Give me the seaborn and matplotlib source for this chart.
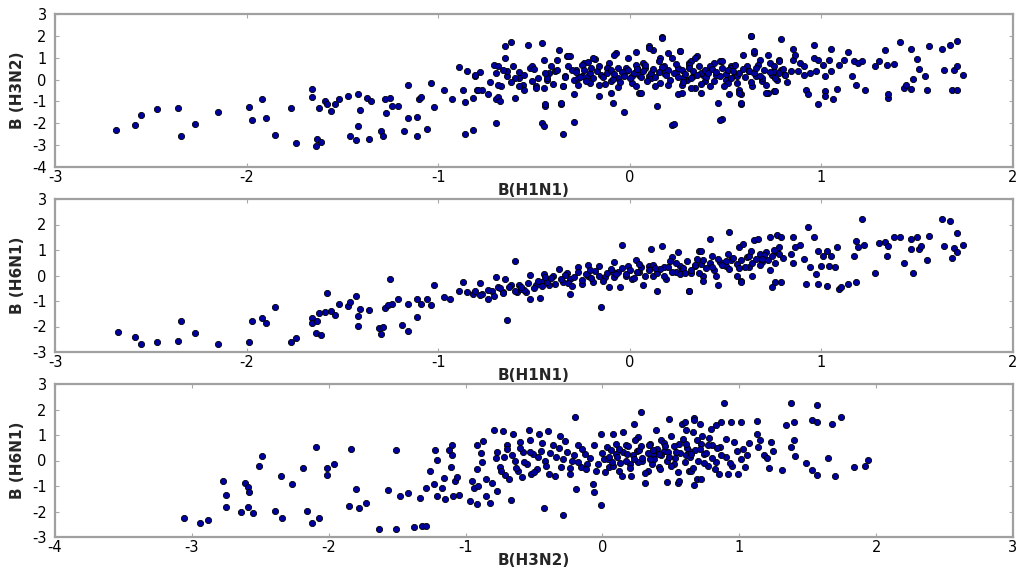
import matplotlib
matplotlib.use("Agg")
import matplotlib.pyplot as plt
import seaborn as sns
import pandas as pd

# ---------------- data ----------------
# Panel 1: B(H1N1) vs B(H3N2)
h1n1_h3n2 = [
(-2.68,-2.31),(-2.58,-2.09),(-2.55,-1.60),(-2.47,-1.36),(-2.36,-1.28),(-2.34,-2.56),(-2.27,-2.04),(-2.15,-1.48),
(-1.99,-1.26),(-1.97,-1.83),(-1.92,-0.90),(-1.90,-1.75),(-1.85,-2.54),(-1.77,-1.31),(-1.74,-2.91),(-1.66,-0.41),
(-1.66,-0.81),(-1.64,-3.05),(-1.63,-2.71),(-1.62,-1.31),(-1.61,-2.86),(-1.59,-0.96),(-1.58,-1.14),(-1.56,-1.46),
(-1.54,-1.14),(-1.52,-0.88),(-1.47,-0.74),(-1.46,-2.56),(-1.43,-2.77),(-1.42,-0.65),(-1.42,-2.13),(-1.41,-1.40),
(-1.37,-0.84),(-1.35,-1.00),(-1.36,-2.74),(-1.30,-2.36),(-1.29,-2.59),(-1.28,-0.91),(-1.27,-1.55),(-1.25,-0.85),
(-1.24,-1.19),(-1.21,-1.22),(-1.18,-2.36),(-1.16,-0.27),(-1.16,-1.75),(-1.11,-1.70),(-1.11,-2.59),(-1.10,-0.88),
(-1.09,-0.79),(-1.06,-2.25),(-1.04,-0.15),(-1.02,-1.25),(-0.97,-0.46),(-0.93,-0.88),(-0.89,0.58),(-0.87,-0.49),
(-0.86,-2.50),(-0.86,-1.04),(-0.85,0.38),(-0.82,-2.33),(-0.82,-0.84),(-0.81,0.18),(-0.80,-0.49),(-0.78,0.33),
(-0.77,-0.46),(-0.74,-0.68),(-0.73,-0.12),(-0.71,0.68),(-0.70,-1.98),(-0.70,-0.91),(-0.69,-0.79),(-0.68,-0.99),
(-0.67,-0.30),(-0.65,0.99),(-0.65,1.55),(-0.64,0.15),(-0.62,1.70),(-0.61,0.61),(-0.60,-0.84),(-0.58,0.08),
(-0.56,-0.23),(-0.55,-0.46),(-0.53,1.60),(-0.52,0.53),(-0.51,-0.08),(-0.49,-0.30),(-0.46,-1.98),(-0.46,1.67),
(-0.45,-2.13),(-0.45,-0.38),(-0.45,0.91),(-0.44,-1.19),(-0.43,0.00),(-0.42,0.31),(-0.41,0.61),(-0.38,0.91),
(-0.37,1.34),(-0.36,-1.10),(-0.35,-0.30),(-0.35,-2.47),(-0.34,0.18),(-0.33,1.06),(-0.31,1.06),(-0.29,0.00),
(-0.29,-1.92),(-0.28,0.46),(-0.27,-0.23),(-0.25,0.15),(-0.24,0.76),(-0.22,0.79),(-0.21,-0.15),(-0.18,0.94),
(-0.16,-0.76),(-0.15,0.23),(-0.11,0.76),(-0.10,-0.08),(-0.09,-1.07),(-0.07,1.22),(-0.06,-0.34),(-0.03,-1.49),
(-0.02,0.53),(-0.01,0.99),(0.01,0.15),(0.03,1.25),(0.04,0.53),(0.05,-0.61),(0.07,0.76),(0.10,0.15),(0.10,1.52),
(0.12,1.37),(0.13,-0.30),(0.14,-1.19),(0.16,0.99),(0.17,1.95),(0.18,0.61),(0.20,1.22),(0.22,-2.09),(0.24,0.31),
(0.25,-0.68),(0.26,1.29),(0.27,-0.23),(0.31,0.76),(0.33,0.15),(0.34,-0.38),
(0.27,-0.61),(0.30,0.00),(0.32,0.84),(0.35,1.06),(0.37,-0.61),(0.38,0.23),(0.42,-0.30),(0.44,0.76),(0.46,-1.07),
(0.47,0.84),(0.48,-1.80),(0.50,0.00),(0.52,-0.68),(0.53,0.61),(0.55,0.23),(0.57,-0.46),(0.58,-0.68),(0.58,-1.10),
(0.59,1.14),(0.61,0.61),(0.63,1.98),(0.64,-0.30),(0.65,1.22),(0.66,0.15),(0.68,0.91),(0.69,-0.08),(0.72,-0.61),
(0.72,1.14),(0.73,0.76),(0.74,0.23),(0.75,-0.53),(0.77,0.00),(0.78,0.91),(0.79,1.86),(0.79,0.46),(0.81,0.23),
(0.84,0.38),(0.85,1.40),(0.85,0.91),(0.86,1.14),(0.88,0.38),(0.89,0.76),(0.91,0.61),(0.91,0.23),(0.92,-0.46),
(0.93,-0.68),(0.94,0.31),(0.96,1.60),(0.96,0.99),(0.97,0.38),(0.98,-1.10),(0.98,0.91),(1.01,0.68),(1.02,0.15),
(1.02,-0.53),(1.02,-0.73),(1.04,0.91),(1.05,0.38),(1.05,1.40),(1.06,-0.88),(1.08,-0.42),(1.09,0.68),(1.12,0.91),
(1.14,1.25),(1.16,0.15),(1.17,0.84),(1.18,-0.27),(1.19,0.76),(1.21,0.84),(1.23,-0.50),(1.28,0.61),(1.30,0.84),
(1.33,1.37),(1.34,0.68),(1.35,-0.84),(1.35,-0.68),(1.38,0.73),(1.41,1.70),(1.43,-0.38),(1.44,-0.23),(1.47,1.40),
(1.47,-0.42),(1.48,0.03),(1.50,0.94),(1.51,0.49),(1.54,0.18),(1.55,-0.50),(1.56,1.55),(1.63,1.40),(1.64,0.43),
(1.67,1.60),(1.68,-0.49),(1.69,0.43),(1.71,1.75),(1.71,-0.49),(1.71,0.64),(1.74,0.23),
(-0.81,0.23),(-0.79,-0.46),(-0.69,0.61),(-0.69,-0.23),(-0.64,0.38),(-0.60,0.08),(-0.58,-0.30),(-0.51,0.61),
(-0.49,-0.38),(-0.44,-1.14),(-0.43,0.08),(-0.39,0.38),(-0.36,-1.07),(-0.35,-0.30),(-0.32,1.06),(-0.30,0.46),
(-0.29,-0.68),(-0.27,0.08),(-0.25,0.68),(-0.22,0.15),(-0.19,0.99),(-0.16,-0.23),(-0.12,0.53),(-0.10,-0.61),
(-0.08,1.14),(-0.06,0.08),(-0.02,0.38),(0.01,-0.15),(0.03,0.68),(0.05,0.23),(0.06,-0.61),(0.08,0.53),(0.10,1.45),
(0.11,0.08),(0.15,0.84),(0.17,1.90),(0.18,0.31),(0.20,-0.23),(0.22,0.99),(0.23,-2.05),(0.25,0.53),(0.26,1.29),
(0.28,0.08),(0.31,0.68),(0.32,-0.38),(0.34,0.99),(0.37,0.31),(0.39,-0.08),(0.42,0.61),(0.45,0.23),(0.47,-1.83),
(0.48,0.84),(0.51,-0.15),(0.53,0.53),(0.56,0.15),(0.57,-0.61),(0.58,-1.07),(0.62,0.38),(0.63,1.98),(0.65,1.29),
(0.67,0.68),(0.69,0.08),(0.71,-0.61),(0.75,0.38),(0.76,-0.53),(0.78,0.84),(0.81,0.23),
(-0.28,0.35),(-0.26,0.10),(-0.24,0.42),(-0.23,-0.05),(-0.21,0.28),(-0.20,0.55),(-0.19,0.05),(-0.17,0.38),
(-0.16,0.62),(-0.14,0.12),(-0.13,-0.20),(-0.12,0.30),(-0.10,0.45),(-0.09,0.02),(-0.08,0.25),(-0.06,0.55),
(-0.05,-0.10),(-0.04,0.35),(-0.03,0.18),(-0.01,0.45),(0.00,0.05),(0.02,0.30),(0.03,-0.30),(0.04,0.50),(0.06,0.12),
(0.07,0.38),(0.08,0.65),(0.09,-0.05),(0.11,0.28),(0.12,0.48),(0.13,0.10),(0.15,0.35),(0.16,-0.15),(0.17,0.58),
(0.19,0.20),(0.20,0.42),(0.21,0.00),(0.23,0.30),(0.24,0.70),(0.25,0.12),(0.27,0.45),(0.28,-0.10),(0.29,0.25),
(0.31,0.55),(0.32,0.08),(0.33,0.38),(0.35,0.20),(0.36,0.62),(0.37,-0.20),(0.39,0.42),(0.40,0.10),(0.41,0.30),
(0.43,0.50),(0.44,-0.05),(0.45,0.35),(0.47,0.18),(0.48,0.55),(0.49,-0.30),(0.50,0.25),(0.51,0.45),(0.53,0.05),
(0.54,0.38),(0.55,0.65),(0.56,-0.15),(0.57,0.30),(0.59,0.50),(0.60,0.10),(0.62,0.40),(0.63,-0.10),(0.65,0.28),
(0.66,0.55),(0.68,0.15),(0.70,0.45),(0.71,-0.25),(0.73,0.35),(0.75,0.60),(0.76,0.05),(0.78,0.30),(0.80,0.50),
(0.82,-0.10),(-0.70,0.30),(-0.66,0.45),(-0.62,-0.10),(-0.58,0.35),(-0.55,0.20),(-0.50,0.50),(-0.48,0.05),
(-0.44,0.30),(-0.40,-0.20),(-0.38,0.45),(-0.34,0.10),(-0.32,0.60),
]

# Panel 2: B(H1N1) vs B(H6N1)
h1n1_h6n1 = [
(-2.67,-2.22),(-2.58,-2.43),(-2.55,-2.69),(-2.47,-2.59),(-2.36,-2.56),(-2.34,-1.80),(-2.27,-2.26),(-2.15,-2.69),
(-1.99,-2.59),(-1.97,-1.80),(-1.92,-1.67),(-1.90,-1.88),(-1.85,-1.25),(-1.77,-2.61),(-1.74,-2.46),(-1.66,-1.67),
(-1.66,-1.88),(-1.64,-2.27),(-1.63,-1.80),(-1.62,-1.48),(-1.61,-2.33),(-1.59,-1.44),(-1.58,-0.69),(-1.56,-1.41),
(-1.54,-1.54),(-1.52,-1.11),(-1.47,-1.18),(-1.46,-1.05),(-1.43,-0.81),(-1.42,-1.57),(-1.42,-1.99),(-1.41,-1.31),
(-1.36,-1.37),(-1.31,-2.07),(-1.30,-2.29),(-1.29,-2.03),(-1.28,-1.28),(-1.26,-1.15),(-1.24,-1.11),(-1.25,-0.13),
(-1.21,-0.92),(-1.19,-1.93),(-1.16,-2.16),(-1.16,-1.11),(-1.11,-1.63),(-1.11,-0.92),(-1.09,-1.11),(-1.06,-0.92),
(-1.04,-1.15),(-1.02,-0.39),(-0.97,-0.85),(-0.94,-0.94),(-0.89,-0.59),(-0.87,-0.26),(-0.85,-0.65),(-0.82,-0.72),
(-0.81,-0.59),(-0.78,-0.29),(-0.77,-0.72),(-0.74,-0.92),(-0.72,-0.59),(-0.70,-0.07),(-0.69,-0.46),(-0.66,-0.65),
(-0.65,-0.13),(-0.64,-1.76),(-0.62,-0.39),(-0.60,0.55),(-0.59,-0.65),(-0.57,-0.52),(-0.54,-0.63),(-0.52,0.03),
(-0.52,-0.92),(-0.49,-0.39),(-0.47,-0.89),(-0.46,-0.26),(-0.45,0.07),(-0.42,-0.39),(-0.40,-0.03),(-0.37,0.26),
(-0.35,-0.26),(-0.33,0.11),(-0.31,-0.72),(-0.31,-0.13),(-0.27,0.33),(-0.25,-0.33),(-0.22,0.00),(-0.22,0.42),
(-0.19,-0.26),(-0.16,0.39),(-0.15,-1.24),(-0.13,-0.07),(-0.11,-0.46),(-0.09,0.13),(-0.08,0.52),(-0.05,-0.46),
(-0.04,1.18),(-0.02,0.00),(-0.01,0.39),(0.01,-0.13),(0.03,0.59),(0.05,0.13),(0.07,-0.39),(0.10,0.39),(0.11,1.05),
(0.12,0.00),(0.14,-0.59),(0.17,1.15),(0.18,0.33),(0.19,-0.13),(0.22,0.72),(0.24,0.13),(0.25,0.91),(0.26,0.39),
(0.31,-0.59),(0.32,0.11),(0.36,0.98),(0.37,0.46),
(0.27,0.26),(0.31,-0.60),(0.34,0.39),(0.37,0.98),(0.38,0.00),(0.38,-0.20),(0.42,1.44),(0.43,0.78),(0.45,0.00),
(0.46,-0.39),(0.47,0.52),(0.50,0.39),(0.52,1.70),(0.53,0.59),(0.56,0.00),(0.57,1.11),(0.58,-0.20),(0.58,-0.26),
(0.59,1.24),(0.61,0.72),(0.62,0.33),(0.64,0.00),(0.65,1.41),(0.67,1.44),(0.68,0.85),(0.69,0.52),(0.71,0.91),
(0.73,1.50),(0.73,0.20),(0.74,-0.46),(0.76,-0.26),(0.77,1.57),(0.77,0.91),(0.78,1.11),(0.79,1.50),(0.79,-0.26),
(0.84,0.85),(0.85,0.50),(0.85,1.50),(0.86,1.11),(0.89,1.18),(0.91,0.65),(0.92,-0.33),(0.93,1.89),(0.94,0.33),
(0.96,1.50),(0.97,0.07),(0.98,-0.33),(0.98,0.98),(1.00,0.39),(1.01,0.78),(1.03,0.98),(1.03,-0.42),(1.04,0.39),
(1.05,0.78),(1.07,0.33),(1.08,1.11),(1.09,-0.52),(1.10,-0.46),(1.14,-0.33),(1.17,0.78),(1.18,-0.26),(1.18,1.37),
(1.19,1.11),(1.21,2.20),(1.22,1.18),(1.28,0.11),(1.30,1.28),(1.33,1.33),(1.34,0.76),(1.35,1.15),(1.38,1.50),
(1.41,1.50),(1.43,0.50),(1.47,1.44),(1.47,1.05),(1.48,0.11),(1.50,1.50),(1.51,1.05),(1.52,1.15),(1.55,0.59),
(1.56,1.54),(1.63,2.22),(1.64,1.15),(1.67,2.12),(1.68,0.68),(1.69,1.07),(1.71,1.67),(1.71,0.91),(1.74,1.20),
(-0.78,-0.75),(-0.74,-0.55),(-0.71,-0.80),(-0.68,-0.50),(-0.66,-0.70),(-0.63,-0.45),(-0.60,-0.62),(-0.58,-0.38),
(-0.55,-0.55),(-0.53,-0.30),(-0.50,-0.48),(-0.48,-0.20),(-0.46,-0.42),(-0.43,-0.25),(-0.41,-0.10),(-0.39,-0.35),
(-0.36,-0.15),(-0.34,0.02),(-0.32,-0.28),(-0.29,-0.05),(-0.27,0.12),(-0.25,-0.18),(-0.23,0.05),(-0.20,-0.10),
(-0.18,0.18),(-0.16,0.00),(-0.14,-0.20),(-0.12,0.10),(-0.10,0.25),(-0.08,-0.05),(-0.06,0.15),(-0.04,0.30),
(-0.02,0.05),(0.00,0.20),(0.02,-0.10),(0.04,0.12),(0.06,0.35),(0.08,0.00),(0.10,0.20),(0.12,0.42),(0.14,0.08),
(0.16,0.25),(0.18,0.00),(0.20,0.35),(0.22,0.15),(0.24,0.50),(0.26,0.05),(0.28,0.30),(0.30,0.55),(0.32,0.20),
(0.34,0.40),(0.36,0.10),(0.38,0.60),(0.40,0.30),(0.42,0.50),(0.44,0.20),(0.46,0.65),(0.48,0.40),(0.50,0.55),
(0.52,0.25),(0.54,0.70),(0.56,0.45),(0.58,0.60),(0.60,0.35),(0.62,0.75),(0.64,0.50),(0.66,0.65),(0.68,0.40),
(0.70,0.80),(0.72,0.60),(0.74,0.75),(0.76,0.50),(0.78,0.85),(0.80,0.70),
(-0.57,-0.45),(-0.44,-0.05),(-0.30,-0.40),(-0.21,0.22),(-0.07,0.05),(0.05,0.45),(0.13,0.28),(0.21,0.55),
(0.29,0.10),(0.35,0.65),(0.43,0.35),(0.51,0.85),(0.57,0.30),(0.63,0.95),(0.69,0.65),(0.75,1.00),
]

# Panel 3: B(H3N2) vs B(H6N1)
h3n2_h6n1 = [
(-3.06,-2.25),(-2.94,-2.45),(-2.88,-2.33),(-2.77,-0.79),(-2.75,-1.36),(-2.75,-1.81),(-2.64,-2.02),(-2.61,-0.88),
(-2.59,-1.05),(-2.59,-1.81),(-2.58,-1.25),(-2.55,-2.07),(-2.51,-0.23),(-2.49,0.16),(-2.39,-1.98),(-2.35,-0.59),
(-2.34,-2.24),(-2.27,-0.92),(-2.19,-0.30),(-2.16,-1.99),(-2.12,-2.44),(-2.09,0.51),(-2.07,-2.24),(-2.01,-0.30),
(-2.01,-0.55),(-1.96,-0.13),(-1.85,-1.79),(-1.84,0.47),(-1.80,-1.12),(-1.78,-1.87),
(-1.73,-1.65),(-1.63,-2.67),(-1.57,-1.16),(-1.51,0.42),(-1.51,-2.67),(-1.48,-1.40),(-1.42,-1.29),(-1.38,-2.60),
(-1.33,-1.46),(-1.32,-2.58),(-1.29,-2.57),(-1.29,-1.08),(-1.26,-0.40),(-1.23,-0.92),(-1.22,0.42),(-1.21,0.03),
(-1.21,-1.40),(-1.17,-1.08),(-1.16,-0.69),(-1.15,-1.52),(-1.12,0.42),(-1.11,-0.26),(-1.10,0.59),(-1.10,0.20),
(-1.09,-1.38),(-1.08,-0.79),(-1.06,-0.66),(-1.05,-1.36),(-0.97,-1.58),(-0.95,-0.79),(-0.94,-1.08),(-0.92,0.59),
(-0.92,-0.34),(-0.92,-1.69),(-0.91,-0.99),(-0.89,0.29),(-0.88,-0.07),(-0.87,0.76),(-0.85,-0.72),(-0.85,-1.38),
(-0.82,-1.66),(-0.81,-0.90),(-0.79,1.19),(-0.77,0.33),(-0.77,-1.19),(-0.75,-0.26),(-0.73,1.16),(-0.72,0.13),
(-0.71,-0.55),(-0.70,0.59),(-0.68,-0.72),(-0.67,-1.55),(-0.65,1.05),(-0.64,0.00),(-0.62,-0.40),(-0.60,0.72),
(-0.59,-0.66),(-0.58,0.33),(-0.55,-0.13),(-0.54,1.19),(-0.53,0.79),(-0.52,-0.53),(-0.51,0.26),(-0.48,-0.33),
(-0.46,1.05),(-0.45,0.39),(-0.43,-1.85),(-0.42,0.00),(-0.40,1.16),(-0.39,-0.53),(-0.36,0.59),(-0.34,0.13),
(-0.31,0.98),(-0.30,-0.26),(-0.29,-2.15),(-0.26,0.33),(-0.24,-0.53),(-0.22,0.00),(-0.20,1.71),(-0.19,-1.12),
(-0.18,0.59),(-0.16,-0.26),(-0.13,0.26),(-0.11,-0.13),(-0.07,-0.92),(-0.06,-1.25),(-0.05,-0.40),(-0.01,-1.75),
(-0.01,1.05),(0.01,0.07),(0.03,0.53),(0.05,-0.26),(0.08,1.05),(0.10,0.26),(0.12,-0.40),(0.14,-0.59),(0.15,1.12),
(0.17,0.59),(0.20,-0.13),(0.21,-0.59),(0.23,1.45),(0.25,0.39),(0.26,0.92),(0.28,1.91),(0.29,0.00),(0.31,-0.90),
(0.33,-0.40),(0.35,0.66),(0.38,0.20),(0.39,1.19),(0.41,-0.26),(0.43,0.79),(0.45,0.39),(0.47,-0.86),(0.49,1.61),
(0.50,0.98),(0.52,-0.13),(0.55,-0.90),(0.56,0.66),(0.58,1.45),(0.61,0.20),(0.63,-0.40),(0.66,1.12),(0.67,1.65),
(0.69,-0.72),
(0.56,-0.79),(0.60,1.51),(0.61,1.19),(0.63,0.39),(0.65,-0.40),(0.67,1.58),(0.67,-0.95),(0.69,0.79),(0.71,1.45),
(0.72,-0.72),(0.73,0.98),(0.74,0.26),(0.77,-0.20),(0.79,1.25),(0.80,0.59),(0.83,-0.07),(0.83,1.38),(0.85,-0.53),
(0.86,0.53),(0.87,1.51),(0.89,2.24),(0.90,0.13),(0.92,-0.53),(0.94,1.51),(0.95,-0.20),(0.96,0.72),(0.98,0.39),
(0.99,-0.53),(1.01,1.51),(1.01,0.07),(1.03,0.46),(1.04,-0.26),(1.06,0.20),(1.07,0.69),(1.13,1.55),(1.13,1.05),
(1.14,0.53),(1.15,0.79),(1.18,0.20),(1.20,0.11),(1.22,-0.30),(1.23,0.72),(1.25,0.39),(1.31,-0.37),(1.34,1.38),
(1.38,2.26),(1.38,0.53),(1.40,0.79),(1.40,1.51),(1.41,0.16),(1.49,-0.10),(1.53,1.58),(1.53,-0.37),(1.57,2.17),
(1.57,1.51),(1.57,-0.57),(1.65,0.11),(1.68,1.45),(1.70,-0.59),(1.74,1.71),(1.84,-0.24),(1.92,-0.20),(1.94,0.03),
(-0.78,0.10),(-0.74,-0.40),(-0.70,0.45),(-0.66,0.20),(-0.63,-0.30),(-0.60,0.50),(-0.57,-0.05),(-0.53,0.35),
(-0.50,-0.45),(-0.47,0.15),(-0.44,0.70),(-0.41,-0.20),(-0.38,0.30),(-0.35,-0.60),(-0.32,0.50),(-0.29,0.05),
(-0.27,0.75),(-0.24,-0.30),(-0.21,0.20),(-0.18,-0.05),(-0.15,0.45),(-0.12,-0.35),(-0.09,0.10),(-0.06,0.60),
(-0.03,-0.15),(0.00,0.30),(0.02,-0.45),(0.04,0.05),(0.06,0.40),(0.08,-0.20),(0.10,0.65),(0.11,0.15),(0.13,-0.10),
(0.15,0.35),(0.17,0.00),(0.19,0.55),(0.20,-0.30),(0.22,0.20),(0.24,0.80),(0.26,-0.05),(0.27,0.40),(0.29,0.10),
(0.31,-0.50),(0.33,0.30),(0.34,0.60),(0.36,-0.15),(0.38,0.05),(0.40,0.45),(0.42,-0.35),(0.43,0.20),(0.45,0.70),
(0.47,0.00),(0.48,0.35),(0.50,-0.20),(0.52,0.55),(0.53,0.10),(0.55,-0.45),(0.57,0.30),(0.59,0.85),(0.60,-0.05),
(0.62,0.50),(0.64,0.15),(0.66,-0.30),(0.68,0.40),(0.70,0.00),(0.72,0.65),(0.74,-0.10),(0.76,0.30),(0.78,0.90),
(0.80,0.10),(0.82,-0.35),(0.84,0.50),(0.87,0.20),(0.90,0.85),(0.93,-0.10),
(0.05,0.15),(0.12,0.45),(0.18,0.25),(0.28,0.55),(0.35,0.05),(0.41,0.25),(0.46,0.55),(0.54,0.35),(0.61,0.65),
(0.65,0.25),(0.71,0.45),(0.77,0.60),(0.07,-0.05),(0.23,0.05),(0.37,0.40),(0.49,0.15),
]

panels = [
    dict(data=h1n1_h3n2, xlabel="B(H1N1)", ylabel="B (H3N2)",
         xlim=(-3, 2), ylim=(-4, 3), xticks=[-3, -2, -1, 0, 1, 2], yticks=[-4, -3, -2, -1, 0, 1, 2, 3]),
    dict(data=h1n1_h6n1, xlabel="B(H1N1)", ylabel="B (H6N1)",
         xlim=(-3, 2), ylim=(-3, 3), xticks=[-3, -2, -1, 0, 1, 2], yticks=[-3, -2, -1, 0, 1, 2, 3]),
    dict(data=h3n2_h6n1, xlabel="B(H3N2)", ylabel="B (H6N1)",
         xlim=(-4, 3), ylim=(-3, 3), xticks=[-4, -3, -2, -1, 0, 1, 2, 3], yticks=[-3, -2, -1, 0, 1, 2, 3]),
]

# ---------------- drawing ----------------
sns.set_theme(style="white")
plt.rcParams['font.family'] = ['DejaVu Sans']

fig = plt.figure(figsize=(10.19, 5.73), dpi=100)
W, H = 1019, 573
boxes = [(14, 167), (199, 352), (384, 537)]
left_px, right_px = 55, 1013

for p, (top, bot) in zip(panels, boxes):
    ax = fig.add_axes([left_px / W, 1 - bot / H, (right_px - left_px) / W, (bot - top) / H])
    df = pd.DataFrame(p["data"], columns=["x", "y"])
    sns.scatterplot(data=df, x="x", y="y", ax=ax, s=20, color="#0000a0",
                    edgecolor="black", linewidth=0.6, legend=False, zorder=3)
    ax.set_xlim(*p["xlim"])
    ax.set_ylim(*p["ylim"])
    ax.set_xticks(p["xticks"])
    ax.set_yticks(p["yticks"])
    ax.set_xticklabels([str(t) for t in p["xticks"]], fontsize=10.5)
    ax.set_yticklabels([str(t) for t in p["yticks"]], fontsize=10.5)
    ax.tick_params(direction="in", length=3, width=0.8, color="#aaaaaa",
                   top=True, right=True, bottom=True, left=True, labelcolor="black")
    ax.tick_params(axis="x", pad=2)
    ax.tick_params(axis="y", pad=6)
    ax.set_xlabel(p["xlabel"], fontsize=11, fontweight="bold", labelpad=-1)
    ax.set_ylabel(p["ylabel"], fontsize=11, fontweight="bold", labelpad=5)
    for s in ax.spines.values():
        s.set_color("#a0a0a0")
        s.set_linewidth(1.6)
    ax.grid(False)

fig.savefig("out.png", dpi=100)
